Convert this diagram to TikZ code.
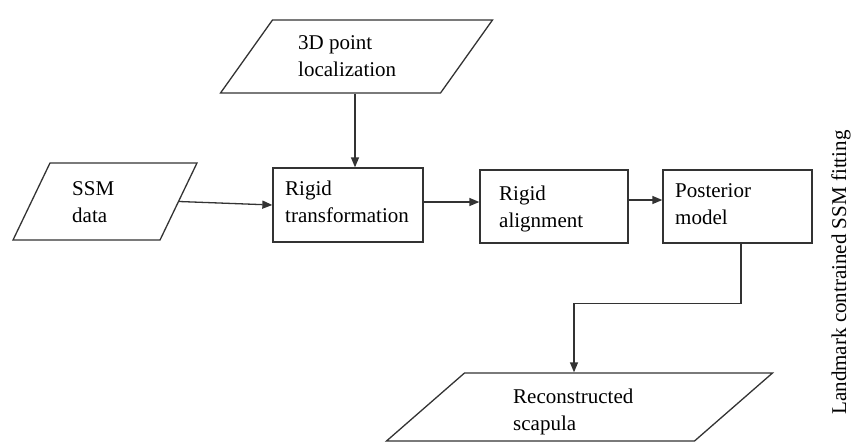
\documentclass[tikz,border=0pt]{standalone}
\usepackage{fontspec}
\setmainfont{Liberation Serif}
\usetikzlibrary{arrows.meta}
\begin{document}
\begin{tikzpicture}[x=1pt,y=-1pt,
  line/.style={draw=black!80,line width=1.3pt},
  box/.style={line,rectangle,inner sep=0pt},
  para/.style={box,transform shape},
  lbl/.style={font=\fontsize{21}{27}\selectfont,align=left,inner sep=0pt,anchor=base west},
  arr/.style={line,-{Triangle[length=10pt,width=8pt]}}]
\useasboundingbox (0,0) rectangle (854,445);
% parallelograms
\begin{scope}[shift={(356.5,56.5)},xslant=0.712]
  \node[para,minimum width=220pt,minimum height=73pt] (p3d) at (0,0) {};
\end{scope}
\begin{scope}[shift={(105,201.5)},xslant=0.48]
  \node[para,minimum width=147pt,minimum height=77pt] (ssm) at (0,0) {};
\end{scope}
\begin{scope}[shift={(579.5,407)},xslant=1.147]
  \node[para,minimum width=308pt,minimum height=68pt] (rec) at (0,0) {};
\end{scope}
% rectangles
\node[box,minimum width=150pt,minimum height=74pt] (rt) at (348,205) {};
\node[box,minimum width=148pt,minimum height=73pt] (ra) at (554,206.5) {};
\node[box,minimum width=149pt,minimum height=73pt] (pm) at (737.5,206.5) {};
% labels (anchored at the baseline of the second line)
\node[lbl] (t3d) at (298,76) {3D point\\localization};
\node[lbl] (tssm) at (72,222) {SSM\\data};
\node[lbl] (trt) at (285,222) {Rigid\\transformation};
\node[lbl] (tra) at (499,227) {Rigid\\alignment};
\node[lbl] (tpm) at (675,224) {Posterior\\model};
\node[lbl] (trec) at (513,430) {Reconstructed\\scapula};
\node[font=\fontsize{21}{27}\selectfont,rotate=90,anchor=base,inner sep=0pt] (side) at (846,272.5) {Landmark contrained SSM fitting};
% connectors
\coordinate (vx) at (355,0);
\draw[arr] (p3d.south -| vx) -- (rt.north -| vx);
\draw[arr] (ssm.east) -- (rt.west);
\draw[arr] ([yshift=3pt]rt.east) -- ([yshift=3pt]rt.east -| ra.west);
\draw[arr] ([yshift=6.5pt]ra.east) -- ([yshift=6.5pt]ra.east -| pm.west);
\coordinate (dx) at (574,0);
\draw[arr] ([xshift=3.5pt]pm.south) -- ++(0,60) -| (rec.north -| dx);
\end{tikzpicture}
\end{document}
